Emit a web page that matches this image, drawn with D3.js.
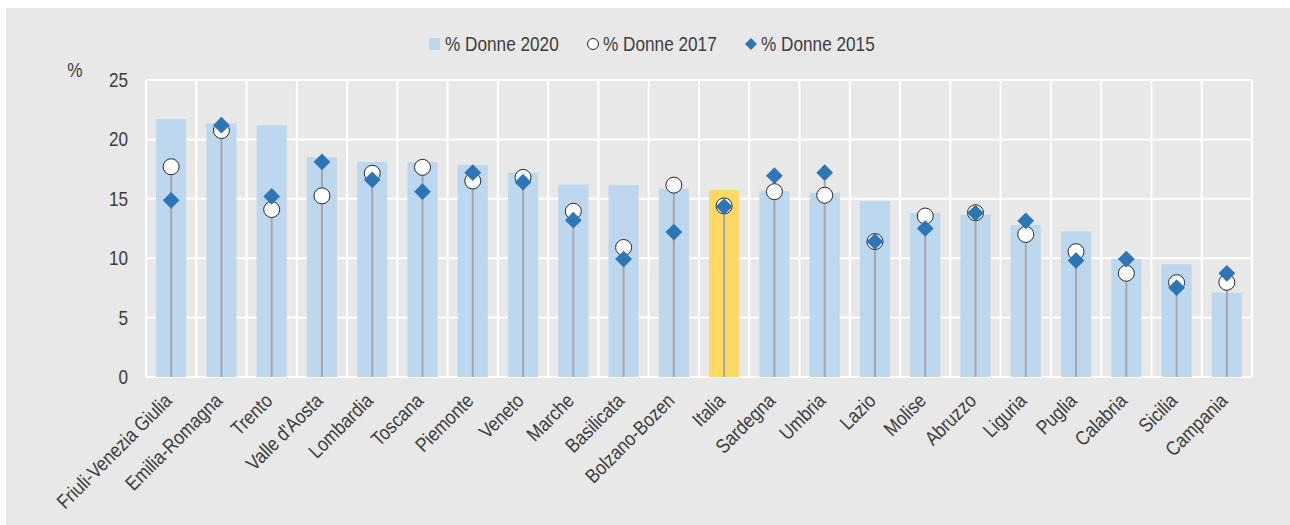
<!DOCTYPE html>
<html>
<head>
<meta charset="utf-8">
<script src="https://cdn.jsdelivr.net/npm/d3@7"></script>
<style>
  body { margin: 0; background: #ffffff; }
  svg { display: block; font-family: "Liberation Sans", Arial, sans-serif; }
</style>
</head>
<body>
<svg></svg>
<script>
var regions = ["Friuli-Venezia Giulia", "Emilia-Romagna", "Trento", "Valle d'Aosta", "Lombardia",
  "Toscana", "Piemonte", "Veneto", "Marche", "Basilicata", "Bolzano-Bozen", "Italia", "Sardegna",
  "Umbria", "Lazio", "Molise", "Abruzzo", "Liguria", "Puglia", "Calabria", "Sicilia", "Campania"];
var donne2020 = [21.7, 21.35, 21.2, 18.5, 18.1, 18.1, 17.85, 17.2, 16.2, 16.15, 15.85, 15.75, 15.65,
  15.5, 14.8, 13.8, 13.65, 12.8, 12.25, 9.95, 9.5, 7.1];
var donne2017 = [17.7, 20.75, 14.1, 15.25, 17.15, 17.65, 16.5, 16.8, 13.95, 10.9, 16.15, 14.4, 15.6,
  15.3, 11.4, 13.55, 13.83, 12.0, 10.55, 8.73, 7.94, 7.97];
var donne2015 = [14.87, 21.2, 15.2, 18.1, 16.6, 15.6, 17.2, 16.4, 13.2, 9.93, 12.2, 14.35, 16.95,
  17.2, 11.4, 12.5, 13.8, 13.15, 9.8, 9.93, 7.52, 8.73];
var yTicks = [0, 5, 10, 15, 20, 25];
var legendLabels = ["% Donne 2020", "% Donne 2017", "% Donne 2015"];

var W = 1290, H = 525;
var svg = d3.select("svg").attr("width", W).attr("height", H);
var fs = 20, squeeze = 0.86, txt = "#3d3d3d";

svg.append("rect").attr("x", 6).attr("y", 8).attr("width", W - 6).attr("height", H - 8)
  .attr("fill", "#e8e8e8");

var plot = { left: 146, right: 1252, top: 80, bottom: 377 };

var data = regions.map(function(r, i) {
  return { name: r, v20: donne2020[i], v17: donne2017[i], v15: donne2015[i] };
});

var x = d3.scaleBand().domain(regions).range([plot.left, plot.right]).paddingInner(0.4).paddingOuter(0.2);
var y = d3.scaleLinear().domain([0, 25]).range([plot.bottom, plot.top]);
var cx = function(name) { return x(name) + x.bandwidth() / 2; };

// horizontal grid
svg.append("g").selectAll("line").data(yTicks).enter().append("line")
  .attr("x1", plot.left).attr("x2", plot.right)
  .attr("y1", function(d) { return y(d); }).attr("y2", function(d) { return y(d); })
  .attr("stroke", "#ffffff").attr("stroke-width", 2);

// vertical grid at band boundaries
var step = x.step();
var bounds = d3.range(regions.length + 1).map(function(i) { return plot.left + i * step; });
svg.append("g").selectAll("line").data(bounds).enter().append("line")
  .attr("x1", function(d) { return d; }).attr("x2", function(d) { return d; })
  .attr("y1", plot.top).attr("y2", plot.bottom)
  .attr("stroke", "#ffffff").attr("stroke-width", 2);

// bars 2020
svg.append("g").selectAll("rect").data(data).enter().append("rect")
  .attr("x", function(d) { return x(d.name); })
  .attr("width", x.bandwidth())
  .attr("y", function(d) { return y(d.v20); })
  .attr("height", function(d) { return y(0) - y(d.v20); })
  .attr("fill", function(d) { return d.name == "Italia" ? "#ffd966" : "#bdd7ee"; });

// stems
svg.append("g").selectAll("line").data(data).enter().append("line")
  .attr("x1", function(d) { return cx(d.name); })
  .attr("x2", function(d) { return cx(d.name); })
  .attr("y1", y(0))
  .attr("y2", function(d) { return y(Math.max(d.v17, d.v15)); })
  .attr("stroke", "#a6a6a6").attr("stroke-width", 2);

// circles 2017
svg.append("g").selectAll("circle").data(data).enter().append("circle")
  .attr("cx", function(d) { return cx(d.name); })
  .attr("cy", function(d) { return y(d.v17); })
  .attr("r", 8)
  .attr("fill", "#ffffff").attr("stroke", "#262626").attr("stroke-width", 1);

// diamonds 2015
var diamond = d3.symbol().type(d3.symbolSquare).size(140);
svg.append("g").selectAll("path").data(data).enter().append("path")
  .attr("d", diamond)
  .attr("transform", function(d) {
    return "translate(" + cx(d.name) + "," + y(d.v15) + ") rotate(45)";
  })
  .attr("fill", "#2e75b6");

// y axis labels
svg.append("g").selectAll("text").data(yTicks).enter().append("text")
  .attr("transform", function(d) { return "translate(128," + y(d) + ") scale(" + squeeze + ",1)"; })
  .attr("dy", "0.35em").attr("text-anchor", "end")
  .attr("font-size", fs).attr("fill", txt)
  .text(function(d) { return d; });
svg.append("text").attr("transform", "translate(75,77) scale(" + squeeze + ",1)")
  .attr("text-anchor", "middle")
  .attr("font-size", fs).attr("fill", txt).text("%");

// x labels
svg.append("g").selectAll("text").data(regions).enter().append("text")
  .attr("transform", function(d) {
    return "translate(" + (cx(d) + 2) + "," + 402 + ") rotate(-45) scale(" + squeeze + ",1)";
  })
  .attr("text-anchor", "end")
  .attr("font-size", fs).attr("fill", txt)
  .text(function(d) { return d; });

// legend
var leg = svg.append("g");
leg.append("rect").attr("x", 429).attr("y", 38).attr("width", 11).attr("height", 12).attr("fill", "#bdd7ee");
leg.append("circle").attr("cx", 593).attr("cy", 44).attr("r", 5.5)
  .attr("fill", "#ffffff").attr("stroke", "#262626").attr("stroke-width", 1);
leg.append("path").attr("d", d3.symbol().type(d3.symbolSquare).size(72))
  .attr("transform", "translate(751,44) rotate(45)").attr("fill", "#2e75b6");
var legX = [445, 603, 761];
leg.selectAll("text").data(legendLabels).enter().append("text")
  .attr("transform", function(d, i) { return "translate(" + legX[i] + ",51) scale(" + squeeze + ",1)"; })
  .attr("font-size", fs).attr("fill", txt)
  .text(function(d) { return d; });
</script>
</body>
</html>
